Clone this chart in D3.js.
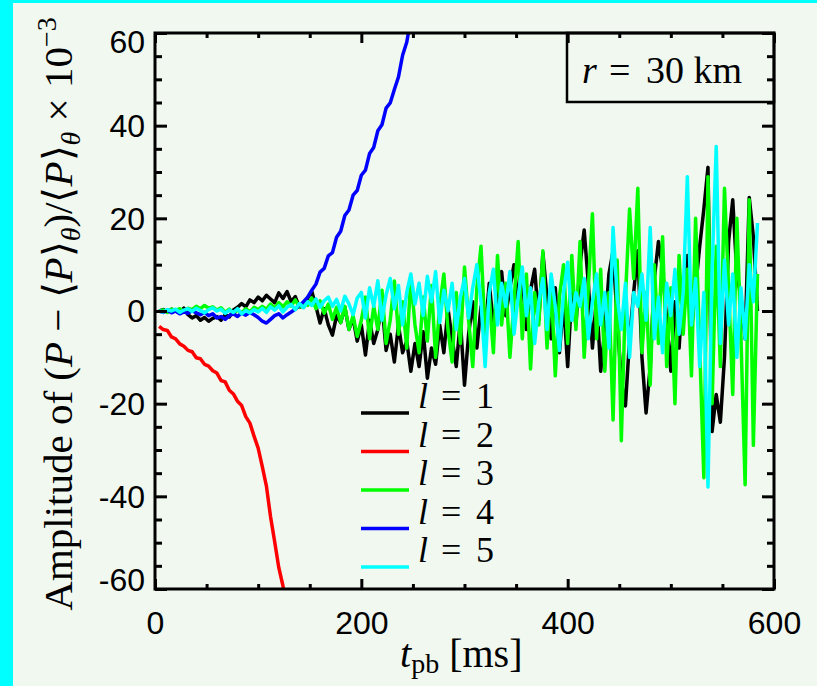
<!DOCTYPE html>
<html>
<head>
<meta charset="utf-8">
<script src="https://cdn.jsdelivr.net/npm/d3@7"></script>
<style>
  html, body { margin: 0; padding: 0; background: #f0f8f0; }
  svg { display: block; }
  .tick text { font-family: "Liberation Sans", Arial, Helvetica, sans-serif; font-size: 32px; fill: #000; }
  .serif { font-family: "Liberation Serif", "Times New Roman", Times, serif; fill: #000; }
</style>
</head>
<body>
<svg id="chart" width="817" height="686"></svg>
<script>
// Sample times (ms after bounce) shared by all harmonic series
const tGrid = d3.range(4, 585, 4);

// l = 1 amplitude (x 10^-3)
const ampL1 = [
  0, 0.3, -0.2, 0.4, 0, -0.5, 0.6, -0.8, -1.5, -1.0,
  -2.0, -1.4, -2.2, -1.6, -1.2, -2.0, -0.8, -1.3, 0.2, 0.8,
  1.6, 0.9, 2.4, 1.8, 3.0, 2.2, 3.4, 2.6, 1.8, 3.9,
  2.7, 4.2, 2.0, 3.1, 0.8, 1.2, 2.8, 4.2, 1.0, -2.6,
  0.5, -3.0, -5.2, -1.0, -2.5, 0.8, -4.0, -1.5, -6.5, -3.0,
  -9.5, -2.0, -7.0, -4.0, 1.5, -8.5, -5.0, -11.0, -3.0, -9.0,
  -6.5, -13.0, -7.0, -12.0, -4.5, -14.5, -8.0, -11.5, -3.0, -9.0,
  0.5, -6.0, -12.0, -2.0, -16.0, -5.0, 2.0, -8.0, 1.0, -4.5,
  6.0, -3.0, 3.5, 8.5, -1.0, 5.0, 10.0, 2.0, 7.5, -4.0,
  4.5, 9.0, -2.0, 12.5, 3.0, -6.0, 5.0, -9.0, 2.0, -12.0,
  4.0, -3.0, 10.0, 17.5, 6.0, -8.0, 3.0, -13.0, -4.0, 8.0,
  13.0, -2.0, -15.0, -20.5, -6.0, 4.0, 13.0, -10.0, -22.0, -12.0,
  7.0, 15.0, 9.0, -2.0, -13.0, 2.0, -8.0, 6.0, 12.0, -4.0,
  5.0, 14.0, 22.0, 31.0, -26.0, -18.0, -24.0, -10.0, 15.0, 24.0,
  8.0, 3.0, -6.0, 24.5, 16.0, 0.0
];

// l = 2 amplitude
const ampL2 = [
  -3.3, -4.0, -4.2, -5.6, -6.0, -7.1, -7.6, -8.5, -8.8, -10.1,
  -10.3, -11.5, -11.9, -12.9, -13.4, -15.0, -15.3, -17.1, -17.9, -19.5,
  -20.4, -22.8, -24.2, -27.0, -29.6, -33.6, -37.8, -44.4, -49.8, -55.4,
  -59.3, -64.0
];

// l = 3 amplitude
const ampL3 = [
  0, 0.2, -0.3, 0.4, 0.1, 0.5, -0.2, 0.6, 0.3, 1.0,
  0.5, 1.2, 0.6, 0.9, 0.2, 0.7, -0.3, 0.4, -0.6, 0.2,
  -0.4, 0.5, -0.2, 0.8, 0.3, 1.0, 0.4, 1.5, 0.6, 1.8,
  0.9, 2.0, 1.1, 2.4, 0.8, 1.9, 1.2, 2.8, 0.5, 2.2,
  -0.5, 1.5, -1.8, 0.8, -2.5, 1.0, -4.0, -1.0, -5.5, -2.0,
  3.0, -6.0, 1.0, -4.0, 4.5, -7.0, -2.0, 6.5, -5.0, 2.0,
  -8.0, 7.0, -3.0, -9.0, 3.0, -6.5, 5.5, -10.0, 1.0, 8.0,
  -4.0, -11.0, 4.0, -7.0, 9.5, -2.0, -12.0, 5.0, 14.0, -5.0,
  3.0, -9.0, 12.0, -3.0, 6.0, -10.0, 2.0, 15.0, -6.0, 8.0,
  -12.5, 4.0, -3.0, 13.0, -8.0, 6.0, -14.0, 3.0, 10.0, -7.0,
  12.0, -4.0, 15.0, -10.0, 5.0, 21.0, -6.0, 9.0, -13.0, 4.0,
  -23.5, 11.0, -28.0, 3.0, 22.0, 7.0, 26.5, -9.0, 4.0, -16.0,
  10.0, -7.0, 16.0, -12.0, 5.0, -20.0, 12.0, -5.0, 9.0, -14.0,
  20.0, -8.0, -36.0, 29.0, -20.0, 14.0, -12.0, 26.5, 5.0, -18.0,
  20.0, -6.0, -37.5, 24.0, -29.0, 8.0
];

// l = 4 amplitude
const ampL4 = [
  0, -0.3, 0.2, -0.4, 0, -0.6, -0.2, -0.5, 0.1, -0.4,
  -0.8, -0.3, -1.0, -0.6, -1.5, -1.2, -1.8, -1.0, -0.6, -1.2,
  -0.4, -0.9, -0.3, -0.8, -1.4, -2.2, -2.6, -1.8, -1.0, -0.6,
  -1.5, -0.8, -0.2, 0.4, 1.2, 2.0, 3.0, 4.5, 5.8, 8.4,
  9.2, 11.9, 12.6, 15.9, 17.2, 20.6, 21.8, 25.0, 26.0, 29.3,
  30.4, 34.0, 35.3, 38.9, 40.2, 43.8, 44.9, 47.8, 50.5, 55.2,
  58.0, 63.0
];

// l = 5 amplitude
const ampL5 = [
  0, -0.2, 0.3, 0, 0.4, -0.3, 0.2, 0.5, -0.1, 0.6,
  0.1, -0.4, 0.3, 0.7, 0, 0.4, -0.5, 0.2, -0.3, 0.5,
  -0.6, 0.1, -0.4, 0.3, -0.2, 0.6, -0.3, 0.9, 0.2, 1.1,
  -0.2, 0.8, 1.4, 0.3, 1.6, 0.7, 2.0, 1.2, 2.6, 0.8,
  2.2, 3.0, 1.0, 2.5, 0.0, 3.2, 1.5, -0.8, 2.8, 4.0,
  -1.5, 5.0, 1.0, 6.5, -2.0, 3.5, 7.0, 0.5, 5.5, -3.0,
  4.0, 8.0, 1.5, 6.0, -1.0, 7.5, 2.0, 8.5, -2.5, 4.5,
  0.0, 6.0, -4.0, 3.0, 7.0, -1.5, 5.0, 10.0, 2.0, -12.0,
  4.0, 9.0, -3.0, 6.0, 1.0, 8.5, -5.0, 3.0, 9.5, -1.0,
  5.0, -7.0, 2.0, 7.0, -4.0, 8.0, 1.0, -8.5, 4.0, 10.5,
  -2.0, 4.0, 1.0, 7.0, -6.0, 2.0, 8.0, -3.0, 4.0, -8.0,
  18.0, 3.0, -4.0, 6.0, -10.0, 4.0, 1.0, 8.0, -2.0, 18.0,
  -6.0, 3.0, -9.0, 6.0, -1.0, 9.0, -5.0, 4.0, 29.0, -3.0,
  7.0, -12.0, 4.0, -38.0, 9.0, 35.5, -7.0, 11.0, -3.0, 8.0,
  -10.0, 5.0, -6.0, 10.0, 2.0, 19.0
];

const seriesNames = ["1", "2", "3", "4", "5"];
const seriesColors = ["#000000", "#ff0000", "#00ff00", "#0000ff", "#00ffff"];
const seriesValues = [ampL1, ampL2, ampL3, ampL4, ampL5];

const xMajorTicks = [0, 200, 400, 600];
const xMinorTicks = [50, 100, 150, 250, 300, 350, 450, 500, 550];
const yMajorTicks = [-60, -40, -20, 0, 20, 40, 60];
const yMinorTicks = d3.range(-55, 60, 5).filter(v => v % 20 !== 0);

const W = 817, H = 686;
const plot = { left: 155, right: 774, top: 33, bottom: 589 };

const svg = d3.select("#chart");

// page background and cyan frame strips
svg.append("rect").attr("width", W).attr("height", H).attr("fill", "#f0f8f0");
svg.append("rect").attr("x", 0).attr("y", 0).attr("width", 13).attr("height", H).attr("fill", "#00ffff");
svg.append("rect").attr("x", 0).attr("y", 0).attr("width", W).attr("height", 3).attr("fill", "#00ffff");

const x = d3.scaleLinear().domain([0, 600]).range([plot.left, plot.right]);
const y = d3.scaleLinear().domain([-60, 60]).range([plot.bottom, plot.top]);

svg.append("defs").append("clipPath").attr("id", "plotclip")
  .append("rect")
  .attr("x", plot.left).attr("y", plot.top)
  .attr("width", plot.right - plot.left).attr("height", plot.bottom - plot.top);

// data lines
const line = d3.line().x((d, i) => x(tGrid[i])).y(d => y(d));
const lines = svg.append("g").attr("clip-path", "url(#plotclip)");
seriesValues.forEach((vals, k) => {
  lines.append("path")
    .datum(vals)
    .attr("d", line)
    .attr("fill", "none")
    .attr("stroke", seriesColors[k])
    .attr("stroke-width", 3.5)
    .attr("stroke-linejoin", "round");
});

// axes with inward ticks
function styleAxis(g) {
  g.select(".domain").remove();
  g.selectAll(".tick line").attr("stroke", "#000").attr("stroke-width", 3);
}
const bottomMajor = svg.append("g").attr("transform", `translate(0,${plot.bottom})`)
  .call(d3.axisBottom(x).tickValues(xMajorTicks).tickSize(-10).tickPadding(22).tickFormat(d3.format("d")));
styleAxis(bottomMajor);
bottomMajor.selectAll(".tick text").attr("font-family", null).attr("font-size", null);
const bottomMinor = svg.append("g").attr("transform", `translate(0,${plot.bottom})`)
  .call(d3.axisBottom(x).tickValues(xMinorTicks).tickSize(-5).tickFormat(""));
styleAxis(bottomMinor);

const topMajor = svg.append("g").attr("transform", `translate(0,${plot.top})`)
  .call(d3.axisTop(x).tickValues(xMajorTicks).tickSize(-10).tickFormat(""));
styleAxis(topMajor);
const topMinor = svg.append("g").attr("transform", `translate(0,${plot.top})`)
  .call(d3.axisTop(x).tickValues(xMinorTicks).tickSize(-5).tickFormat(""));
styleAxis(topMinor);

const leftMajor = svg.append("g").attr("transform", `translate(${plot.left},0)`)
  .call(d3.axisLeft(y).tickValues(yMajorTicks).tickSize(-12).tickPadding(10).tickFormat(d => String(d)));
styleAxis(leftMajor);
leftMajor.selectAll(".tick text").attr("font-family", null).attr("font-size", null)
  .attr("dy", d => d === 60 ? "0.62em" : d === -60 ? "0.04em" : "0.34em");
const leftMinor = svg.append("g").attr("transform", `translate(${plot.left},0)`)
  .call(d3.axisLeft(y).tickValues(yMinorTicks).tickSize(-7).tickFormat(""));
styleAxis(leftMinor);

const rightMajor = svg.append("g").attr("transform", `translate(${plot.right},0)`)
  .call(d3.axisRight(y).tickValues(yMajorTicks).tickSize(-12).tickFormat(""));
styleAxis(rightMajor);
const rightMinor = svg.append("g").attr("transform", `translate(${plot.right},0)`)
  .call(d3.axisRight(y).tickValues(yMinorTicks).tickSize(-7).tickFormat(""));
styleAxis(rightMinor);

// plot frame
svg.append("rect")
  .attr("x", plot.left).attr("y", plot.top)
  .attr("width", plot.right - plot.left).attr("height", plot.bottom - plot.top)
  .attr("fill", "none").attr("stroke", "#000").attr("stroke-width", 3);

// radius label box in the upper right corner
svg.append("rect")
  .attr("x", 567).attr("y", plot.top)
  .attr("width", plot.right - 567).attr("height", 102 - plot.top)
  .attr("fill", "none").attr("stroke", "#000").attr("stroke-width", 2.5);
const rText = svg.append("text").attr("class", "serif").attr("font-size", 38).attr("y", 83);
rText.append("tspan").attr("x", 582).attr("font-style", "italic").text("r");
rText.append("tspan").attr("x", 609).text("=");
rText.append("tspan").attr("x", 646).text("30 km");

// legend
const legend = svg.append("g");
seriesNames.forEach((name, i) => {
  const ly = 413 + i * 38.5;
  legend.append("line")
    .attr("x1", 361).attr("x2", 409).attr("y1", ly).attr("y2", ly)
    .attr("stroke", seriesColors[i]).attr("stroke-width", 3.5);
  const t = legend.append("text").attr("class", "serif").attr("font-size", 36).attr("y", ly - 5);
  t.append("tspan").attr("x", 418).attr("font-style", "italic").text("l");
  t.append("tspan").attr("x", 441).text("=");
  t.append("tspan").attr("x", 476).text(name);
});

// x axis title
const xTitle = svg.append("text").attr("class", "serif").attr("font-size", 40)
  .attr("x", 400).attr("y", 667);
xTitle.append("tspan").attr("font-style", "italic").text("t");
xTitle.append("tspan").attr("font-size", 28).attr("dy", 6).text("pb");
xTitle.append("tspan").attr("dy", -6).text(" [ms]");

// y axis title
const yTitle = svg.append("text").attr("class", "serif").attr("font-size", 41)
  .attr("text-anchor", "middle")
  .attr("transform", "translate(72,314) rotate(-90)");
yTitle.append("tspan").text("Amplitude of (");
yTitle.append("tspan").attr("font-style", "italic").text("P");
yTitle.append("tspan").text(" \u2212 \u27E8");
yTitle.append("tspan").attr("font-style", "italic").text("P");
yTitle.append("tspan").text("\u27E9");
yTitle.append("tspan").attr("font-style", "italic").attr("font-size", 28).attr("dy", 8).text("\u03B8");
yTitle.append("tspan").attr("dy", -8).text(")/\u27E8");
yTitle.append("tspan").attr("font-style", "italic").text("P");
yTitle.append("tspan").text("\u27E9");
yTitle.append("tspan").attr("font-style", "italic").attr("font-size", 28).attr("dy", 8).text("\u03B8");
yTitle.append("tspan").attr("dy", -8).text(" \u00D7 10");
yTitle.append("tspan").attr("font-size", 28).attr("dy", -16).text("\u22123");
</script>
</body>
</html>
